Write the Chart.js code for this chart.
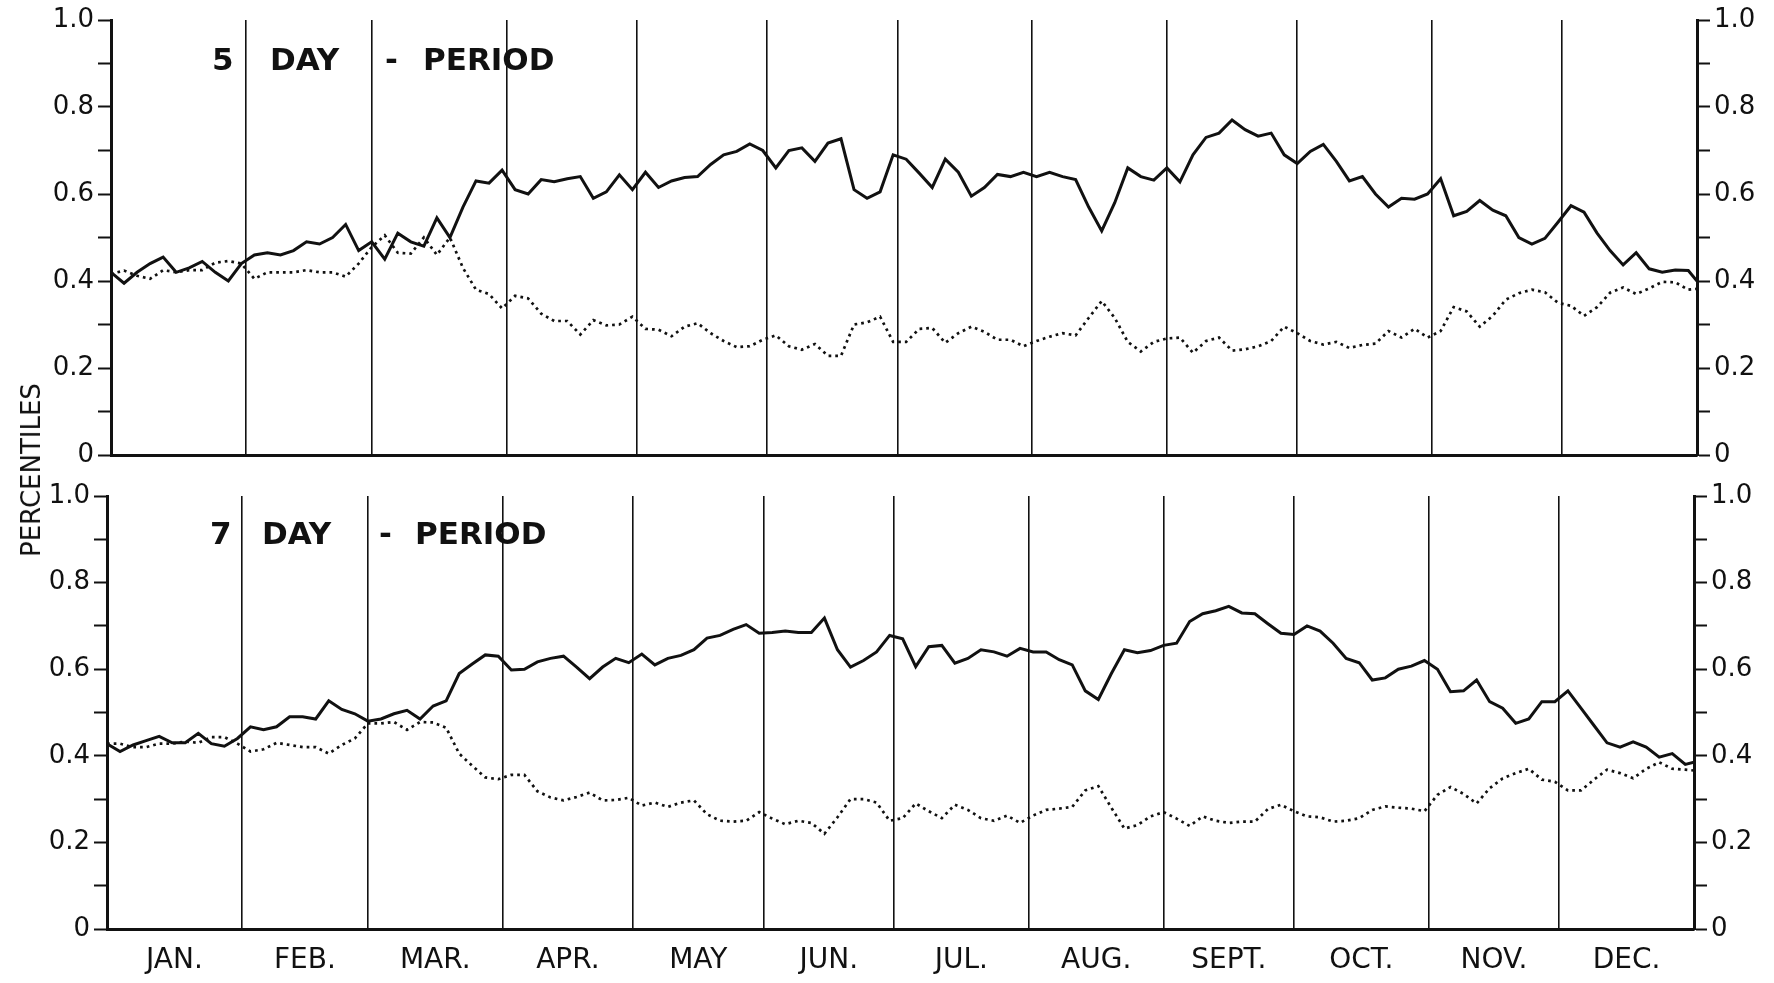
<!DOCTYPE html>
<html>
<head>
<meta charset="utf-8">
<script src="https://cdn.jsdelivr.net/npm/chart.js@4.4.1/dist/chart.umd.min.js"></script>
<style>
    html, body { margin: 0; padding: 0; background: #fff; }
    body { width: 1774px; height: 983px; position: relative; overflow: hidden; }
    canvas { position: absolute; left: 0; }
    #fiveDay { top: 0; }
    #sevenDay { top: 476px; }
    #ylabel {
        position: absolute; left: 31px; top: 470px;
        transform: translate(-50%, -50%) rotate(-90deg);
        font: 26px "DejaVu Sans", sans-serif; color: #111;
        white-space: nowrap; line-height: 1;
    }
</style>
</head>
<body>
<canvas id="fiveDay" width="1774" height="476"></canvas>
<canvas id="sevenDay" width="1774" height="507"></canvas>
<div id="ylabel">PERCENTILES</div>

<script>
// dag på året (var tredje dag + årets slut)
const days = Array.from({ length: 122 }, (_, i) => i * 3).concat(365);

const monthStarts = [0, 31, 60, 91, 121, 151, 181, 212, 243, 273, 304, 334, 365];
const monthMids = [15.5, 45.5, 75.5, 106, 136, 166, 196.5, 227.5, 258, 288.5, 319, 349.5];
const monthNames = ["JAN.", "FEB.", "MAR.", "APR.", "MAY", "JUN.", "JUL.", "AUG.", "SEPT.", "OCT.", "NOV.", "DEC."];

// 5-dagars period
const fiveSolid = [
    0.42, 0.395, 0.42, 0.44, 0.455, 0.42, 0.43, 0.445, 0.42, 0.40,
    0.44, 0.46, 0.465, 0.46, 0.47, 0.49, 0.485, 0.50, 0.53, 0.47,
    0.49, 0.45, 0.51, 0.49, 0.48, 0.545, 0.50, 0.57, 0.63, 0.625,
    0.655, 0.61, 0.60, 0.633, 0.628, 0.635, 0.64, 0.59, 0.605, 0.644,
    0.61, 0.65, 0.615, 0.63, 0.638, 0.64, 0.668, 0.69, 0.698, 0.715,
    0.70, 0.66, 0.70, 0.706, 0.675, 0.717, 0.727, 0.61, 0.59, 0.605,
    0.69, 0.68, 0.648, 0.615, 0.68, 0.65, 0.595, 0.615, 0.645, 0.64,
    0.65, 0.64, 0.65, 0.64, 0.633, 0.57, 0.515, 0.58, 0.66, 0.64,
    0.632, 0.66, 0.628, 0.69, 0.73, 0.74, 0.77, 0.748, 0.733, 0.74,
    0.69, 0.67, 0.698, 0.714, 0.675, 0.63, 0.64, 0.60, 0.57, 0.59,
    0.588, 0.60, 0.635, 0.55, 0.56, 0.585, 0.563, 0.55, 0.50, 0.485,
    0.498, 0.535, 0.573, 0.558, 0.51, 0.47, 0.437, 0.465, 0.428, 0.42,
    0.425, 0.424, 0.40
];
const fiveDotted = [
    0.416, 0.424, 0.412, 0.405, 0.425, 0.42, 0.425, 0.425, 0.442, 0.446,
    0.44, 0.405, 0.42, 0.42, 0.42, 0.425, 0.42, 0.42, 0.41, 0.44,
    0.478, 0.505, 0.465, 0.463, 0.50, 0.46, 0.50, 0.43, 0.38, 0.37,
    0.337, 0.366, 0.36, 0.325, 0.308, 0.308, 0.277, 0.31, 0.298, 0.30,
    0.318, 0.29, 0.288, 0.273, 0.295, 0.303, 0.28, 0.262, 0.248, 0.25,
    0.265, 0.275, 0.25, 0.242, 0.255, 0.228, 0.228, 0.30, 0.305, 0.318,
    0.26, 0.26, 0.29, 0.292, 0.258, 0.28, 0.295, 0.283, 0.265, 0.265,
    0.25, 0.262, 0.272, 0.28, 0.275, 0.315, 0.354, 0.315, 0.26, 0.238,
    0.26, 0.268, 0.27, 0.235, 0.262, 0.27, 0.24, 0.243, 0.25, 0.262,
    0.295, 0.28, 0.262, 0.254, 0.26, 0.246, 0.253, 0.256, 0.285, 0.27,
    0.29, 0.27, 0.285, 0.34, 0.33, 0.295, 0.32, 0.357, 0.372, 0.38,
    0.374, 0.35, 0.343, 0.32, 0.34, 0.373, 0.385, 0.37, 0.383, 0.398,
    0.397, 0.38, 0.382
];

// 7-dagars period
const sevenSolid = [
    0.428, 0.41, 0.425, 0.435, 0.445, 0.43, 0.43, 0.452, 0.428, 0.422,
    0.44, 0.467, 0.46, 0.467, 0.49, 0.49, 0.485, 0.527, 0.507, 0.497,
    0.48, 0.485, 0.497, 0.505, 0.485, 0.515, 0.527, 0.59, 0.612, 0.633,
    0.63, 0.598, 0.60, 0.617, 0.625, 0.63, 0.605, 0.578, 0.605, 0.625,
    0.615, 0.635, 0.61, 0.625, 0.632, 0.645, 0.672, 0.678, 0.692, 0.703,
    0.683, 0.685, 0.688, 0.685, 0.685, 0.718, 0.645, 0.605, 0.62, 0.64,
    0.678, 0.67, 0.606, 0.652, 0.655, 0.614, 0.625, 0.645, 0.64, 0.63,
    0.648, 0.64, 0.64, 0.622, 0.61, 0.55, 0.53, 0.59, 0.645, 0.638,
    0.643, 0.655, 0.66, 0.71, 0.728, 0.735, 0.745, 0.73, 0.728, 0.705,
    0.683, 0.68, 0.70, 0.688, 0.66, 0.625, 0.615, 0.575, 0.58, 0.60,
    0.607, 0.62, 0.60, 0.548, 0.55, 0.575, 0.525, 0.51, 0.475, 0.485,
    0.525, 0.525, 0.55, 0.51, 0.47, 0.43, 0.42, 0.432, 0.42, 0.397,
    0.405, 0.38, 0.385
];
const sevenDotted = [
    0.428, 0.428, 0.42, 0.42, 0.428, 0.428, 0.433, 0.43, 0.443, 0.443,
    0.428, 0.41, 0.415, 0.43, 0.425, 0.42, 0.42, 0.405, 0.425, 0.44,
    0.475, 0.475, 0.478, 0.46, 0.478, 0.477, 0.465, 0.405, 0.377, 0.35,
    0.346, 0.356, 0.356, 0.318, 0.304, 0.297, 0.305, 0.315, 0.297, 0.298,
    0.303, 0.285, 0.292, 0.282, 0.292, 0.297, 0.265, 0.25, 0.248, 0.25,
    0.27, 0.255, 0.242, 0.25, 0.245, 0.22, 0.258, 0.30, 0.30, 0.292,
    0.25, 0.256, 0.29, 0.272, 0.256, 0.287, 0.275, 0.256, 0.25, 0.262,
    0.245, 0.262, 0.275, 0.278, 0.282, 0.32, 0.33, 0.28, 0.232, 0.24,
    0.26, 0.27, 0.255, 0.238, 0.26, 0.25, 0.245, 0.248, 0.248, 0.277,
    0.287, 0.272, 0.26, 0.258, 0.248, 0.25, 0.256, 0.275, 0.283, 0.28,
    0.278, 0.272, 0.31, 0.328, 0.312, 0.29, 0.325, 0.348, 0.36, 0.37,
    0.345, 0.34, 0.32, 0.32, 0.345, 0.368, 0.36, 0.348, 0.37, 0.385,
    0.37, 0.368, 0.366
];

const ink = "#111";

/**
 * y-axel 0–1.0 med tickmarker var 0.1, etikett var 0.2
 */
function percentAxis(position, width) {
    return {
        type: "linear",
        position: position,
        min: 0,
        max: 1,
        afterFit: (scale) => { scale.width = width; },
        border: { display: true, color: ink, width: 3 },
        grid: { drawOnChartArea: false, drawTicks: true, tickLength: 13, tickColor: ink, tickWidth: 2 },
        ticks: {
            stepSize: 0.1,
            autoSkip: false,
            color: ink,
            padding: 4,
            font: { family: "DejaVu Sans", size: 26 },
            callback: (v) => {
                const t = Math.round(v * 10);
                if (t % 2) return "";
                return t === 0 ? "0" : (t / 10).toFixed(1);
            }
        }
    };
}

/**
 * ritar periodtiteln, t.ex. "5 DAY - PERIOD"
 */
function titlePlugin(parts, baseline) {
    return {
        id: "periodTitle",
        afterDraw(chart) {
            const ctx = chart.ctx;
            ctx.save();
            ctx.fillStyle = ink;
            ctx.font = "bold 31px 'DejaVu Sans'";
            ctx.textBaseline = "alphabetic";
            parts.forEach(p => ctx.fillText(p.text, p.x, baseline));
            ctx.restore();
        }
    };
}

function makePanel(canvas, solid, dotted, o) {
    const scales = {
        x: {
            type: "linear",
            position: "bottom",
            weight: 0,
            min: 0,
            max: 365,
            afterBuildTicks: (scale) => { scale.ticks = monthStarts.map(v => ({ value: v })); },
            afterFit: (scale) => { scale.height = o.xHeight; },
            border: { display: true, color: ink, width: 3 },
            grid: { color: ink, lineWidth: 1.6, drawTicks: false },
            ticks: { display: false }
        },
        y: percentAxis("left", o.leftWidth),
        y2: percentAxis("right", o.rightWidth)
    };
    if (o.monthLabels) {
        scales.xl = {
            type: "linear",
            position: "bottom",
            weight: 1,
            min: 0,
            max: 365,
            afterBuildTicks: (scale) => { scale.ticks = monthMids.map(v => ({ value: v })); },
            afterFit: (scale) => { scale.height = o.labelHeight; },
            border: { display: false },
            grid: { display: false, drawTicks: false },
            ticks: {
                autoSkip: false,
                maxRotation: 0,
                minRotation: 0,
                padding: 15,
                color: ink,
                font: { family: "DejaVu Sans", size: 28 },
                callback: (v, i) => monthNames[i]
            }
        };
    }

    return new Chart(canvas, {
        type: "line",
        data: {
            datasets: [
                {
                    label: "solid",
                    data: days.map((d, i) => ({ x: d, y: solid[i] })),
                    borderColor: ink,
                    borderWidth: 3,
                    pointRadius: 0,
                    tension: 0,
                    yAxisID: "y"
                },
                {
                    label: "dotted",
                    data: days.map((d, i) => ({ x: d, y: dotted[i] })),
                    borderColor: ink,
                    borderWidth: 2.7,
                    borderDash: [2.7, 4],
                    pointRadius: 0,
                    tension: 0,
                    yAxisID: "y"
                }
            ]
        },
        options: {
            responsive: false,
            animation: false,
            layout: { padding: { top: 20, left: 0, right: 0, bottom: 0 } },
            plugins: { legend: { display: false }, tooltip: { enabled: false } },
            scales: scales
        },
        plugins: [titlePlugin(o.title, o.titleBaseline)]
    });
}

makePanel(document.getElementById("fiveDay"), fiveSolid, fiveDotted, {
    leftWidth: 111,
    rightWidth: 77,
    xHeight: 21,
    title: [{ text: "5", x: 212 }, { text: "DAY", x: 270 }, { text: "-", x: 385 }, { text: "PERIOD", x: 423 }],
    titleBaseline: 70
});

makePanel(document.getElementById("sevenDay"), sevenSolid, sevenDotted, {
    leftWidth: 107,
    rightWidth: 80,
    xHeight: 0,
    monthLabels: true,
    labelHeight: 54,
    title: [{ text: "7", x: 210 }, { text: "DAY", x: 262 }, { text: "-", x: 379 }, { text: "PERIOD", x: 415 }],
    titleBaseline: 68
});
</script>
</body>
</html>
